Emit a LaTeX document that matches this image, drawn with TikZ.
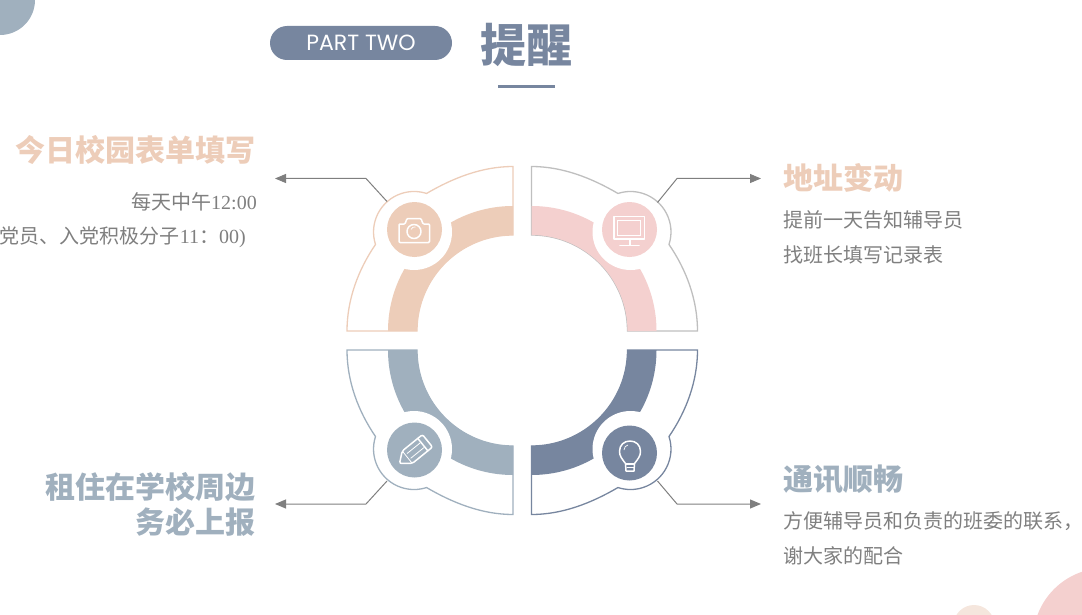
\documentclass[tikz,border=0pt]{standalone}
\usepackage{fontspec}
\setmainfont{Noto Sans CJK SC}
\newfontfamily\latinfont{Liberation Serif}
\newfontfamily\partfont{Poppins}
\usetikzlibrary{arrows.meta}
\definecolor{peach}{HTML}{EDCDB9}
\definecolor{rose}{HTML}{F4D0CF}
\definecolor{mist}{HTML}{A0B0BE}
\definecolor{slate}{HTML}{77869F}
\definecolor{edgegray}{HTML}{BFBFBF}
\definecolor{textgray}{HTML}{7F7F7F}
\definecolor{sand}{HTML}{F5E6DD}
\tikzset{
  headtext/.style={inner sep=0pt,font=\fontsize{30}{36}\selectfont\bfseries},
  bodytext/.style={inner sep=0pt,text=textgray,font=\fontsize{20}{24}\selectfont},
  leader/.style={->,textgray,line width=1pt},
  halo/.style={circle,fill=white,minimum size=76pt,inner sep=0pt},
  icondisk/.style={circle,minimum size=55pt,inner sep=0pt},
  iconline/.style={white,line width=1.5pt,line join=round,line cap=round},
}
% one quarter of the ring, drawn as the upper left one and mirrored
\newcommand{\ringpart}[5]{
  \begin{scope}[shift={#1},xscale=#2,yscale=#3]
    \draw[fill=white,draw=#4,line width=1.3pt] (-96,0) -- (-166,0)
      .. controls (-166,-31) and (-155,-61) .. (-137.5,-86.5)
      arc[start angle=162,end angle=288,radius=40.5]
      .. controls (-60,-153) and (-31,-164.5) .. (0,-164.5)
      -- (0,-96) arc[start angle=270,end angle=180,radius=96] -- cycle;
    \fill[#5] (-96,0) arc[start angle=180,end angle=270,radius=96]
      -- (0,-125) arc[start angle=270,end angle=180,radius=125] -- cycle;
  \end{scope}
}
\begin{document}
\begin{tikzpicture}[x=1pt,y=-1pt,>={Triangle[length=11pt,width=9pt]}]
\useasboundingbox (0,0) rectangle (1082,615);

% corner circles
\fill[mist] (0,0) circle[radius=35];
\fill[rose] (1105,640) circle[radius=72];
\fill[sand] (974,625.5) circle[radius=20.5];

% title
\node[fill=slate,rounded corners=17pt,minimum width=182pt,minimum height=34pt,inner sep=0pt,text=white,font=\partfont\fontsize{22}{26}\selectfont] (part) at (361,43) {PART TWO};
\node[inner sep=0pt,text=slate,font=\fontsize{46}{54}\selectfont\bfseries] (title) at (526,45) {提醒};
\fill[slate] (498,85) rectangle (555,88.5);

% ring
\ringpart{(513,331)}{1}{1}{peach}{peach}
\ringpart{(531.5,331)}{-1}{1}{edgegray}{rose}
\ringpart{(513,350)}{1}{-1}{mist}{mist}
\ringpart{(531.5,350)}{-1}{-1}{slate}{slate}

\node[halo] (camhalo) at (414,232) {};
\node[halo] (tvhalo) at (630.5,232) {};
\node[halo] (penhalo) at (414,449) {};
\node[halo] (bulbhalo) at (630.5,449) {};
\node[icondisk,fill=peach] (cam) at (414.5,229.5) {};
\node[icondisk,fill=rose] (tv) at (629.5,229.5) {};
\node[icondisk,fill=mist] (pen) at (414.5,450) {};
\node[icondisk,fill=slate] (bulb) at (629.5,453) {};

% camera
\draw[iconline,rounded corners=1pt] (399,242.5) -- (399,224) -- (405,224) -- (407,218.5) -- (421,218.5) -- (423,224) -- (429.5,224) -- (429.5,242.5) -- cycle;
\draw[iconline] (414,231.5) circle[radius=7];
\draw[white,line width=0.7pt] (411,229.5) arc[start angle=200,end angle=280,radius=4];

% monitor
\draw[iconline] (614,216.5) rectangle (644.5,239);
\draw[white,line width=0.8pt] (617.5,220.5) rectangle (640.5,235.5);
\draw[iconline] (630,239) -- (630,245);
\draw[iconline,line width=1.6pt] (620,245.5) -- (639,245.5);

% pencil
\begin{scope}[shift={(399.5,463.5)},rotate=39]
  \draw[iconline,rounded corners=2pt] (0,0) -- (10,-8) -- (36,-8) -- (36,8) -- (10,8) -- cycle;
  \draw[iconline] (30,-8) -- (30,8);
  \draw[white,line width=0.8pt] (10,-8) -- (10,8) (12,-3) -- (29,-3) (12,3) -- (29,3);
\end{scope}

% bulb
\draw[iconline] (626,471) -- (625.5,463.5) .. controls (622,459) and (619.5,456) .. (619.5,451.5)
  .. controls (619.5,445) and (624,441) .. (630,441)
  .. controls (636,441) and (640.5,445) .. (640.5,451.5)
  .. controls (640.5,456) and (638,459) .. (634.5,463.5) -- (634,471) -- cycle;
\draw[iconline] (625.5,464) -- (634.5,464);
\draw[white,line width=0.8pt] (626.5,467.5) -- (633.5,467.5);
\draw[white,line width=0.7pt] (624,450) .. controls (624,447) and (626,445.5) .. (628,445);

% leaders
\coordinate (camend) at (387,201.5);
\coordinate (camelbow) at (366,178.5);
\coordinate (camtip) at (275,178.5);
\coordinate (tvend) at (657.5,202.5);
\coordinate (tvelbow) at (677,178.5);
\coordinate (tvtip) at (761,178.5);
\coordinate (penend) at (387,481);
\coordinate (penelbow) at (366,504);
\coordinate (pentip) at (275,504);
\coordinate (bulbend) at (657.5,481);
\coordinate (bulbelbow) at (677,504);
\coordinate (bulbtip) at (761,504);
\draw[leader] (camend) -- (camelbow) -- (camtip);
\draw[leader] (tvend) -- (tvelbow) -- (tvtip);
\draw[leader] (penend) -- (penelbow) -- (pentip);
\draw[leader] (bulbend) -- (bulbelbow) -- (bulbtip);

% texts
\node[headtext,text=peach,anchor=east] (camhead) at (256,150) {今日校园表单填写};
\node[bodytext,anchor=east] (camline) at (257,202) {每天中午{\latinfont 12:00}};
\node[bodytext,anchor=east] (camlinetwo) at (246,237) {党员、入党积极分子{\latinfont 11}：{\latinfont 00)}};
\node[headtext,text=peach,anchor=west] (tvhead) at (783,178) {地址变动};
\node[bodytext,anchor=west] (tvline) at (783,220) {提前一天告知辅导员};
\node[bodytext,anchor=west] (tvlinetwo) at (783,255) {找班长填写记录表};
\node[headtext,text=mist,anchor=east] (penhead) at (256,487) {租住在学校周边};
\node[headtext,text=mist,anchor=east] (penheadtwo) at (256,522) {务必上报};
\node[headtext,text=mist,anchor=west] (bulbhead) at (783,479) {通讯顺畅};
\node[bodytext,anchor=west] (bulbline) at (783,521) {方便辅导员和负责的班委的联系，};
\node[bodytext,anchor=west] (bulblinetwo) at (783,556) {谢大家的配合};
\end{tikzpicture}
\end{document}
